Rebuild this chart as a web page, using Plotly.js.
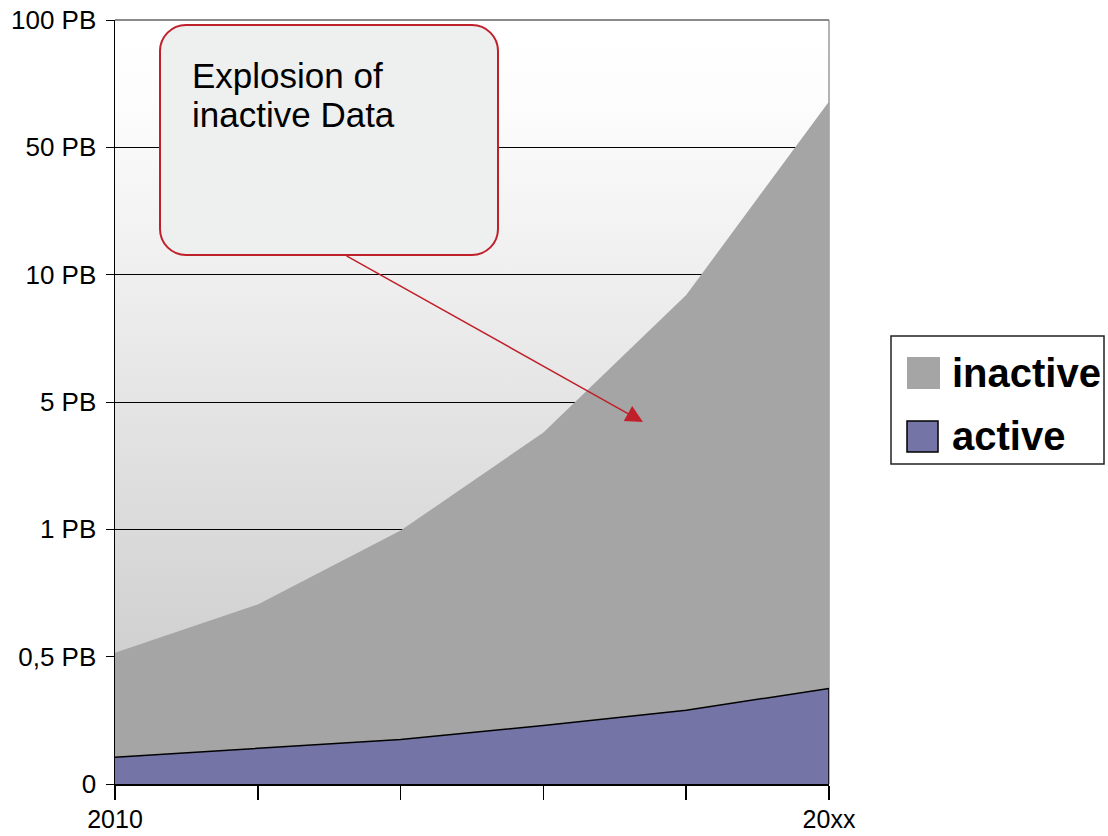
<!DOCTYPE html>
<html><head><meta charset="utf-8">
<script src="https://cdn.plot.ly/plotly-3.0.1.min.js"></script>
<style>html,body{margin:0;padding:0;background:#fff}</style>
</head><body>
<div id="chart" style="width:1108px;height:836px"></div>
<script>
// ---- data (values are positions on the chart's stepped PB scale) ----
const periodLabels = ['2010', '', '', '', '', '20xx'];
const levelLabels = ['0', '0,5 PB', '1 PB', '5 PB', '10 PB', '50 PB', '100 PB'];
const activeLevel = [0.21, 0.28, 0.35, 0.46, 0.58, 0.75];
const totalLevel  = [1.03, 1.41, 1.99, 2.76, 3.84, 5.36];
const seriesNames = ['inactive', 'active'];
const seriesColors = ['#a5a5a5', '#7474a6'];
const calloutLines = ['Explosion of', 'inactive Data'];

// ---- layout helpers (pixel -> paper) ----
const W = 1108, H = 836, L = 115, R = 829, T = 20, B = 784;
const px = X => (X - L) / (R - L);
const py = Y => (B - Y) / (B - T);
const idx = periodLabels.map((_, i) => i);
const levels = levelLabels.map((_, i) => i);

function roundRect(x0, y0, x1, y1, r) {
  const k = 0.5523 * r;
  const p = (X, Y) => px(X).toFixed(5) + ',' + py(Y).toFixed(5);
  return 'M' + p(x0 + r, y0) + ' L' + p(x1 - r, y0) +
    ' C' + p(x1 - r + k, y0) + ' ' + p(x1, y0 + r - k) + ' ' + p(x1, y0 + r) +
    ' L' + p(x1, y1 - r) +
    ' C' + p(x1, y1 - r + k) + ' ' + p(x1 - r + k, y1) + ' ' + p(x1 - r, y1) +
    ' L' + p(x0 + r, y1) +
    ' C' + p(x0 + r - k, y1) + ' ' + p(x0, y1 - r + k) + ' ' + p(x0, y1 - r) +
    ' L' + p(x0, y0 + r) +
    ' C' + p(x0, y0 + r - k) + ' ' + p(x0 + r - k, y0) + ' ' + p(x0 + r, y0) + ' Z';
}

const FONT = 'Liberation Sans, Arial, Helvetica, sans-serif';
const RED = '#c0202a';

const bgSvg = "<svg xmlns='http://www.w3.org/2000/svg' width='100' height='100' preserveAspectRatio='none'>" +
  "<defs><linearGradient id='g' x1='0' y1='0' x2='0' y2='1'>" +
  "<stop offset='0' stop-color='#ffffff'/><stop offset='0.1' stop-color='#fdfdfd'/>" +
  "<stop offset='1' stop-color='#c6c6c6'/></linearGradient></defs>" +
  "<rect width='100' height='100' fill='url(#g)'/></svg>";
const bgUri = 'data:image/svg+xml;charset=utf-8,' + encodeURIComponent(bgSvg);

const traces = [
  {
    x: idx, y: activeLevel, name: seriesNames[1], mode: 'lines',
    fill: 'tozeroy', fillcolor: seriesColors[1],
    line: {color: '#000000', width: 1.5}, showlegend: false, hoverinfo: 'skip'
  },
  {
    x: idx, y: totalLevel, name: seriesNames[0], mode: 'lines',
    fill: 'tonexty', fillcolor: seriesColors[0],
    line: {color: seriesColors[0], width: 0}, showlegend: false, hoverinfo: 'skip'
  }
];

const last = idx.length - 1;
const shapes = [
  // top and right frame (grey)
  {type: 'line', xref: 'paper', yref: 'paper', x0: 0, x1: 1, y0: 1, y1: 1,
   line: {color: '#8a8a8a', width: 2}, layer: 'above'},
  {type: 'line', xref: 'paper', yref: 'paper', x0: 1, x1: 1, y0: 0, y1: 1,
   line: {color: '#9a9a9a', width: 1.5}, layer: 'below'},
  // right edge of the active area
  {type: 'line', xref: 'x', yref: 'y', x0: idx[last], x1: idx[last], y0: 0, y1: activeLevel[last],
   line: {color: '#000000', width: 1.5}, layer: 'above'},
  // callout box
  {type: 'path', xref: 'paper', yref: 'paper', path: roundRect(160, 25, 498, 255, 26),
   fillcolor: '#eeefef', line: {color: RED, width: 2}, layer: 'above'},
  // legend box + swatches
  {type: 'rect', xref: 'paper', yref: 'paper', x0: px(891), x1: px(1104), y0: py(464), y1: py(336),
   fillcolor: '#ffffff', line: {color: '#222222', width: 1.5}},
  {type: 'rect', xref: 'paper', yref: 'paper', x0: px(907), x1: px(940), y0: py(389), y1: py(357),
   fillcolor: seriesColors[0], line: {width: 0}},
  {type: 'rect', xref: 'paper', yref: 'paper', x0: px(907), x1: px(938), y0: py(452), y1: py(421),
   fillcolor: seriesColors[1], line: {color: '#000000', width: 1.5}}
];

const annotations = [
  {xref: 'paper', yref: 'paper', x: px(190), y: py(75), xanchor: 'left', yanchor: 'middle',
   text: calloutLines[0], showarrow: false, font: {family: FONT, size: 35, color: '#000'}},
  {xref: 'paper', yref: 'paper', x: px(190), y: py(115), xanchor: 'left', yanchor: 'middle',
   text: calloutLines[1], showarrow: false, font: {family: FONT, size: 35, color: '#000'}},
  {xref: 'paper', yref: 'paper', x: px(643), y: py(422), text: '', showarrow: true,
   ax: 345 - 643, ay: 255 - 422, arrowhead: 2, arrowsize: 2.3, arrowwidth: 1.5,
   arrowcolor: RED, standoff: 0, startstandoff: 0},
  {xref: 'paper', yref: 'paper', x: px(950), y: py(373), xanchor: 'left', yanchor: 'middle',
   text: '<b>' + seriesNames[0] + '</b>', showarrow: false, font: {family: FONT, size: 40, color: '#000'}},
  {xref: 'paper', yref: 'paper', x: px(950), y: py(436), xanchor: 'left', yanchor: 'middle',
   text: '<b>' + seriesNames[1] + '</b>', showarrow: false, font: {family: FONT, size: 40, color: '#000'}}
];

const layout = {
  width: W, height: H, autosize: false,
  margin: {l: L, r: W - R, t: T, b: H - B, pad: 0},
  paper_bgcolor: '#ffffff', plot_bgcolor: 'rgba(0,0,0,0)',
  font: {family: FONT, color: '#000'},
  showlegend: false,
  xaxis: {
    range: [0, last], tickmode: 'array', tickvals: idx, ticktext: periodLabels,
    ticks: 'outside', ticklen: 14, tickwidth: 1.5, tickcolor: '#000',
    showline: true, linecolor: '#000', linewidth: 2, showgrid: false, zeroline: false,
    tickfont: {family: FONT, size: 25, color: '#000'}, ticklabelstandoff: -2, fixedrange: true
  },
  yaxis: {
    range: [0, levels.length - 1], tickmode: 'array', tickvals: levels, ticktext: levelLabels,
    ticks: 'outside', ticklen: 8, tickwidth: 1, tickcolor: '#000',
    showline: true, linecolor: '#000', linewidth: 1.5,
    showgrid: true, gridcolor: '#000', gridwidth: 1, zeroline: false,
    tickfont: {family: FONT, size: 26, color: '#000'}, ticklabelstandoff: 4, fixedrange: true
  },
  images: [{source: bgUri, xref: 'paper', yref: 'paper', x: 0, y: 1, sizex: 1, sizey: 1,
            sizing: 'stretch', xanchor: 'left', yanchor: 'top', layer: 'below'}],
  shapes: shapes,
  annotations: annotations
};

Plotly.newPlot('chart', traces, layout, {displayModeBar: false, staticPlot: true});
</script>
</body></html>
